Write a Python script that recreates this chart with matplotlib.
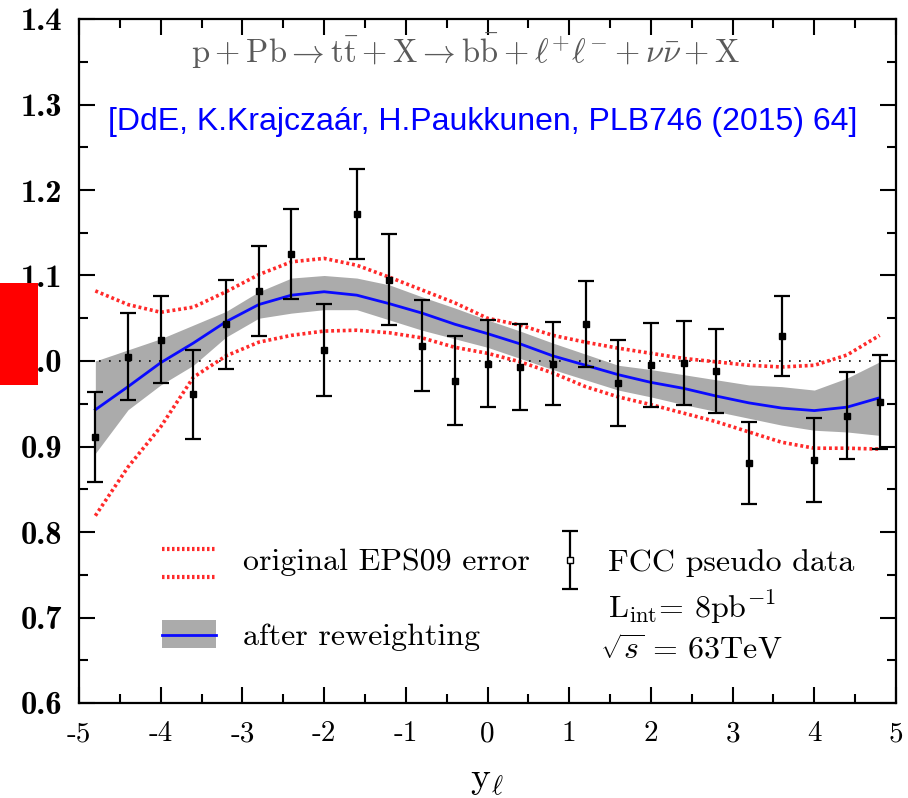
"""p+Pb -> ttbar lepton rapidity ratio, FCC pseudo data vs EPS09 reweighting."""
import matplotlib
matplotlib.use('Agg')
import matplotlib.pyplot as plt
import matplotlib.patches as patches

plt.rcParams['mathtext.fontset'] = 'cm'

# data points (FCC pseudo data)
y_lep = [-4.8, -4.4, -4.0, -3.6, -3.2, -2.8, -2.4, -2.0, -1.6, -1.2, -0.8, -0.4, 0.0,
         0.4, 0.8, 1.2, 1.6, 2.0, 2.4, 2.8, 3.2, 3.6, 4.0, 4.4, 4.8]
data_val = [0.911, 1.005, 1.025, 0.961, 1.043, 1.082, 1.125, 1.013, 1.172, 1.095, 1.018,
            0.977, 0.997, 0.993, 0.997, 1.043, 0.974, 0.995, 0.998, 0.988, 0.881, 1.029,
            0.884, 0.936, 0.952]
data_err = [0.053, 0.051, 0.051, 0.052, 0.052, 0.053, 0.053, 0.054, 0.053, 0.053, 0.053,
            0.052, 0.051, 0.050, 0.049, 0.050, 0.050, 0.049, 0.049, 0.049, 0.048, 0.047,
            0.049, 0.051, 0.055]

# after reweighting: central curve and band
rew_central = [0.943, 0.970, 0.998, 1.021, 1.046, 1.066, 1.077, 1.081, 1.077, 1.067, 1.056,
               1.043, 1.032, 1.020, 1.006, 0.995, 0.984, 0.975, 0.968, 0.959, 0.951, 0.945,
               0.942, 0.946, 0.957]
rew_upper = [1.000, 1.013, 1.026, 1.042, 1.058, 1.081, 1.097, 1.100, 1.097, 1.089, 1.075,
             1.062, 1.048, 1.035, 1.021, 1.008, 0.995, 0.990, 0.984, 0.978, 0.972, 0.970,
             0.966, 0.980, 0.999]
rew_lower = [0.892, 0.943, 0.972, 0.995, 1.028, 1.050, 1.056, 1.060, 1.060, 1.048, 1.036,
             1.026, 1.016, 1.003, 0.990, 0.978, 0.966, 0.958, 0.949, 0.941, 0.933, 0.925,
             0.919, 0.917, 0.913]

# original EPS09 error band
eps_upper = [1.082, 1.066, 1.057, 1.063, 1.081, 1.101, 1.116, 1.120, 1.112, 1.098, 1.083,
             1.068, 1.050, 1.042, 1.030, 1.022, 1.015, 1.009, 1.003, 0.999, 0.995, 0.993,
             0.995, 1.007, 1.030]
eps_lower = [0.819, 0.876, 0.923, 0.981, 1.006, 1.022, 1.030, 1.035, 1.036, 1.033, 1.027,
             1.016, 1.009, 0.999, 0.986, 0.970, 0.958, 0.949, 0.939, 0.929, 0.917, 0.905,
             0.898, 0.898, 0.897]

xticks = [-5, -4, -3, -2, -1, 0, 1, 2, 3, 4, 5]
xtick_labels = ['-5', '-4', '-3', '-2', '-1', '0', '1', '2', '3', '4', '5']
yticks = [0.6, 0.7, 0.8, 0.9, 1.0, 1.1, 1.2, 1.3, 1.4]
ytick_labels = ['0.6', '0.7', '0.8', '0.9', '1.0', '1.1', '1.2', '1.3', '1.4']

W, H = 908, 798
fig = plt.figure(figsize=(W / 100, H / 100), dpi=100)
ax = fig.add_axes([79 / W, 1 - 703 / H, (896 - 79) / W, (703 - 19) / H])
ax.set_xlim(-5, 5)
ax.set_ylim(0.6, 1.4)

red = '#ff2a2a'
band_grey = '#ababab'

ax.fill_between(y_lep, rew_lower, rew_upper, color=band_grey, lw=0, zorder=1)
ax.axhline(1.0, color='black', lw=1.2, ls=(0, (1, 5)), zorder=2)
ax.plot(y_lep, eps_upper, color=red, lw=2.6, ls=(0, (0.8, 0.8)), zorder=3)
ax.plot(y_lep, eps_lower, color=red, lw=2.6, ls=(0, (0.8, 0.8)), zorder=3)
ax.plot(y_lep, rew_central, color='#0a0aff', lw=2.0, zorder=4)
ax.errorbar(y_lep, data_val, yerr=data_err, fmt='s', color='black', ms=5,
            elinewidth=1.6, capsize=5.5, capthick=1.6, zorder=5)

# ticks
ax.set_xticks(xticks)
ax.set_xticklabels(xtick_labels, fontfamily='cmr10', fontsize=21)
ax.set_xticks([x + 0.5 for x in xticks[:-1]], minor=True)
ax.set_yticks(yticks)
ax.set_yticklabels(ytick_labels, fontfamily='cmb10', fontsize=23.5)
ax.set_yticks([y + 0.05 for y in yticks[:-1]], minor=True)
ax.tick_params(which='both', direction='in', top=True, right=True, width=1.5)
ax.tick_params(which='major', length=11.5)
ax.tick_params(which='minor', length=6.5)
ax.tick_params(axis='x', pad=13)
ax.tick_params(axis='y', pad=12)
for s in ax.spines.values():
    s.set_linewidth(1.6)

# titles
ax.text(0.4737, 0.952,
        r'$\mathrm{p+Pb}\rightarrow\mathrm{t\bar{t}}+\mathrm{X}\rightarrow'
        r'\mathrm{b\bar{b}}+\ell^{+}\ell^{-}+\nu\bar{\nu}+\mathrm{X}$',
        transform=ax.transAxes, ha='center', va='center', fontsize=23.5, color='#5a5a5a')
ax.text(0.4945, 0.849, '[DdE, K.Krajczaár, H.Paukkunen, PLB746 (2015) 64]',
        transform=ax.transAxes, ha='center', va='center', fontsize=23,
        fontfamily='Liberation Sans', color='#0000ff')
fig.text(487 / W, 1 - 789 / H, r'$\mathrm{y}_{\ell}$', ha='center', va='baseline',
         fontsize=27)

# manual legend
for yy in (0.2251, 0.1842):
    ax.plot([0.1016, 0.1677], [yy, yy], transform=ax.transAxes, color=red, lw=3,
            ls=(0, (0.6, 0.6)))
ax.text(0.2007, 0.2061, 'original EPS09 error', transform=ax.transAxes,
        fontfamily='cmr10', fontsize=23, va='center', ha='left')
ax.add_patch(patches.Rectangle((0.1016, 0.0804), 0.0661, 0.0409, transform=ax.transAxes,
                               facecolor=band_grey, edgecolor='none'))
ax.plot([0.1016, 0.1677], [0.0994, 0.0994], transform=ax.transAxes, color='#0a0aff', lw=2)
ax.text(0.2007, 0.0960, 'after reweighting', transform=ax.transAxes,
        fontfamily='cmr10', fontsize=23, va='center', ha='left')

ax.errorbar([0.601], [0.209], yerr=[0.042], transform=ax.transAxes, fmt='s',
            mfc='white', mec='black', color='black', ms=4, elinewidth=1.6,
            capsize=5.5, capthick=1.6)
ax.text(0.6475, 0.2047, 'FCC pseudo data', transform=ax.transAxes,
        fontfamily='cmr10', fontsize=23, va='center', ha='left')
ax.text(0.6475, 0.140, r'L$_{\mathrm{int}}$= 8pb$^{\mathrm{-1}}$', transform=ax.transAxes,
        fontfamily='cmr10', fontsize=23, va='center', ha='left')
ax.text(0.638, 0.0775, r'$\sqrt{s}\,=\,\mathrm{63TeV}$', transform=ax.transAxes,
        fontsize=23, va='center', ha='left')

# red block on the left edge
fig.add_artist(patches.Rectangle((0, 1 - 385 / H), 38 / W, 102 / H,
                                 transform=fig.transFigure, facecolor='#ff0000',
                                 edgecolor='none', zorder=10))

fig.savefig('out.png', dpi=100)
